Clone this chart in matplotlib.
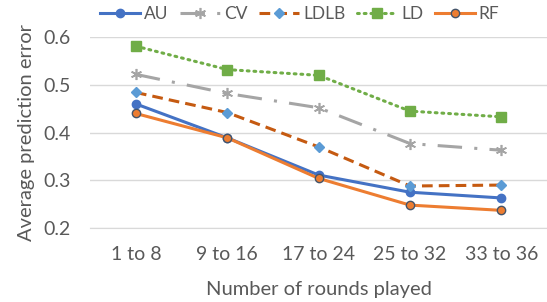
import matplotlib
matplotlib.use("Agg")
import matplotlib.pyplot as plt

plt.rcParams['font.family'] = ['Lato', 'DejaVu Sans']

rounds = ["1 to 8", "9 to 16", "17 to 24", "25 to 32", "33 to 36"]
au = [0.460, 0.389, 0.311, 0.275, 0.263]
cv = [0.522, 0.482, 0.452, 0.377, 0.363]
ldlb = [0.484, 0.442, 0.370, 0.288, 0.290]
ld = [0.581, 0.532, 0.520, 0.445, 0.433]
rf = [0.440, 0.389, 0.304, 0.248, 0.237]

grey = "#595959"
fig = plt.figure(figsize=(5.47, 3.02), dpi=100)
ax = fig.add_axes([0.165, 0.245, 0.835, 0.632])
x = range(len(rounds))

ax.plot(x, au, color="#4472C4", lw=2.2, marker="o", ms=6, label="AU")
ax.plot(x, cv, color="#A5A5A5", lw=2.2, dashes=(8, 4, 1, 4), marker=(6, 2, 0), ms=8,
        mew=1.2, label="CV")
ax.plot(x, ldlb, color="#C55A11", lw=2.2, dashes=(3.5, 2), marker="D", ms=5,
        mfc="#5B9BD5", mec="#5B9BD5", label="LDLB")
ax.plot(x, ld, color="#70AD47", lw=2.2, ls=(0, (0.6, 1.6)), dash_capstyle="round",
        marker="s", ms=7, label="LD")
ax.plot(x, rf, color="#ED7D31", lw=2.2, marker="o", ms=6, mfc="#ED7D31",
        mec="#44546A", mew=1, label="RF")

ax.set_xlim(-0.5, len(rounds) - 0.5)
ax.set_ylim(0.2, 0.6)
ax.set_yticks([0.2, 0.3, 0.4, 0.5, 0.6])
ax.set_yticklabels(["0.2", "0.3", "0.4", "0.5", "0.6"])
ax.set_xticks(list(x))
ax.set_xticklabels(rounds)
ax.grid(axis="y", color="#D9D9D9", lw=1)
ax.set_axisbelow(True)
for s in ["top", "right", "left"]:
    ax.spines[s].set_visible(False)
ax.spines["bottom"].set_color("#D9D9D9")
ax.tick_params(length=0, colors=grey, labelsize=14)
ax.tick_params(axis="x", pad=13)
ax.tick_params(axis="y", pad=14)
ax.set_xlabel("Number of rounds played", color=grey, fontsize=14.5)
ax.set_ylabel("Average prediction error", color=grey, fontsize=14.5)
ax.xaxis.set_label_coords(0.5, -0.28)
ax.yaxis.set_label_coords(-0.12, 0.5)

leg = fig.legend(loc="center left", bbox_to_anchor=(0.183, 0.952), ncol=5, frameon=False,
                 fontsize=12.5, handlelength=2.3, columnspacing=0.65, handletextpad=0.25,
                 borderaxespad=0, borderpad=0)
for t in leg.get_texts():
    t.set_color(grey)

fig.savefig("out.png", dpi=100)
